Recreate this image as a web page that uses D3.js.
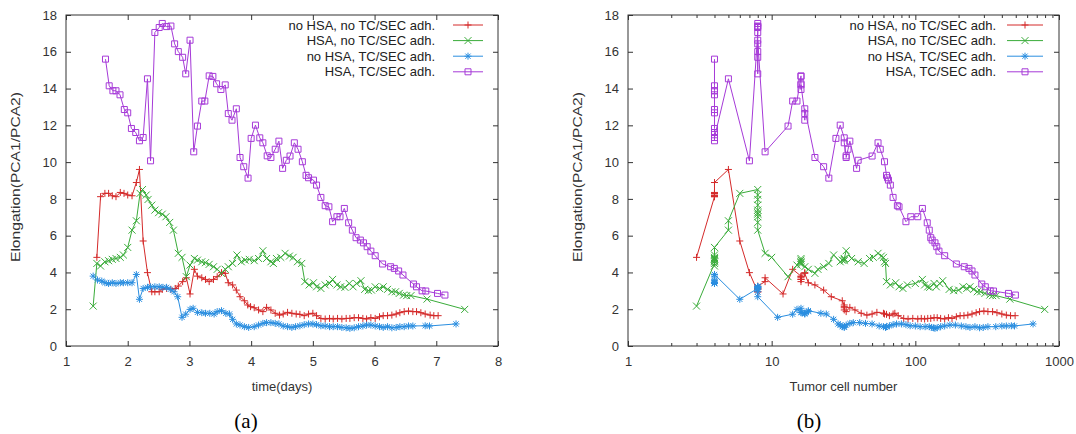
<!DOCTYPE html>
<html><head><meta charset="utf-8">
<script src="https://cdn.jsdelivr.net/npm/d3@7"></script>
<style>body{margin:0;background:#fff}</style>
</head><body><svg id="c" width="1076" height="434"></svg>
<script>
// ---------------- data ----------------
const seriesNames = ["no HSA, no TC/SEC adh.", "HSA, no TC/SEC adh.", "no HSA, TC/SEC adh.", "HSA, TC/SEC adh."];

const redTime = [1.50,1.56,1.63,1.69,1.75,1.81,1.88,1.94,2.00,2.07,2.14,2.19,2.25,2.32,2.39,2.44,2.51,2.56,2.63,2.70,2.77,2.82,2.89,2.95,3.01,3.08,3.13,3.20,3.26,3.32,3.39,3.45,3.52,3.58,3.63,3.70,3.76,3.82,3.89,3.945,3.99,4.05,4.12,4.19,4.25,4.32,4.39,4.46,4.52,4.59,4.66,4.73,4.79,4.86,4.93,5.00,5.06,5.13,5.20,5.27,5.33,5.40,5.47,5.54,5.60,5.67,5.74,5.81,5.87,5.94,6.01,6.08,6.14,6.21,6.28,6.35,6.41,6.48,6.55,6.62,6.68,6.75,6.82,6.90,6.96,7.03];
const redCells = [3,4,4,4,4,4,4,4,4,4,4,5,6,7,8,8,8,8,8,8,8,8,9,9,12,14,16,16,16,16,16,16,17,17,18,20,23,26,31,32,32,32,32,33,35,38,42,46,50,54,60,61,63,66,70,72,76,83,89,96,104,110,116,122,128,135,142,150,160,170,180,193,205,218,232,248,265,280,300,320,345,370,400,430,460,495];
const redElong = [4.82,8.12,8.30,8.30,8.17,8.12,8.35,8.30,8.21,8.17,8.89,9.60,5.71,3.99,2.95,2.95,2.95,3.08,3.13,3.08,3.13,3.26,3.50,3.71,2.83,4.17,3.80,3.71,3.62,3.50,3.62,3.77,3.99,3.95,3.44,3.32,3.04,2.68,2.46,2.23,2.14,2.08,1.96,1.87,2.10,1.96,1.78,1.68,1.74,1.83,1.78,1.74,1.72,1.65,1.74,1.78,1.65,1.50,1.47,1.50,1.47,1.50,1.47,1.50,1.50,1.54,1.54,1.50,1.47,1.54,1.50,1.59,1.65,1.65,1.68,1.74,1.81,1.87,1.90,1.87,1.87,1.81,1.74,1.68,1.65,1.65];

const greenTime = [1.44,1.50,1.56,1.63,1.69,1.75,1.81,1.88,1.93,2.00,2.07,2.14,2.20,2.24,2.30,2.33,2.39,2.44,2.50,2.56,2.62,2.68,2.74,2.82,2.88,2.95,3.01,3.08,3.13,3.20,3.26,3.32,3.39,3.45,3.52,3.58,3.63,3.70,3.77,3.84,3.90,3.97,4.05,4.12,4.19,4.25,4.32,4.36,4.41,4.48,4.55,4.62,4.68,4.75,4.82,4.87,4.94,5.01,5.06,5.13,5.20,5.27,5.32,5.39,5.45,5.52,5.59,5.65,5.71,5.78,5.84,5.90,5.95,6.01,6.08,6.14,6.21,6.28,6.34,6.40,6.47,6.52,6.59,6.85,7.46];
const greenCells = [3,4,4,4,4,4,4,4,4,4,5,5,6,8,8,8,8,8,8,8,8,8,8,9,10,13,15,16,16,16,16,16,17,18,20,21,23,25,27,30,31,32,32,32,33,36,40,44,48,51,55,58,60,61,62,63,67,73,77,82,88,100,112,116,122,126,135,140,148,155,172,185,200,215,228,240,255,270,285,305,330,345,365,455,795];
const greenElong = [2.17,4.49,4.35,4.58,4.64,4.71,4.76,4.82,4.95,5.36,6.30,6.81,8.30,8.51,8.21,7.97,7.66,7.39,7.25,7.17,7.03,6.72,6.30,5.04,4.82,3.77,4.40,4.76,4.67,4.58,4.53,4.44,4.31,4.17,3.95,4.17,4.31,4.49,4.95,4.58,4.67,4.71,4.64,4.76,5.18,4.76,4.58,4.49,4.76,4.82,5.04,4.89,4.82,4.58,4.49,3.50,3.32,3.44,3.22,3.13,3.32,3.40,3.62,3.32,3.22,3.19,3.40,3.22,3.40,3.55,3.08,3.01,3.04,3.22,3.13,3.22,3.08,2.95,2.95,2.86,2.77,2.74,2.74,2.55,1.99];

const blueTime = [1.44,1.51,1.58,1.63,1.69,1.75,1.81,1.88,1.93,2.00,2.07,2.14,2.19,2.25,2.32,2.37,2.44,2.51,2.57,2.63,2.69,2.75,2.81,2.88,2.94,3.01,3.06,3.13,3.20,3.26,3.33,3.40,3.45,3.52,3.59,3.65,3.70,3.76,3.82,3.89,3.96,4.05,4.12,4.19,4.25,4.32,4.39,4.45,4.52,4.59,4.66,4.72,4.79,4.86,4.93,5.00,5.06,5.13,5.20,5.27,5.33,5.40,5.47,5.54,5.60,5.67,5.74,5.81,5.87,5.94,6.01,6.08,6.14,6.21,6.28,6.35,6.41,6.48,6.55,6.62,6.82,6.89,7.32];
const blueCells = [4,4,4,4,4,4,4,4,4,4,4,4,6,8,8,8,8,8,8,8,8,8,8,11,14,15,16,16,16,17,17,17,18,18,22,24,27,29,30,31,32,32,33,35,37,41,45,50,56,60,62,63,66,70,74,80,86,92,100,108,117,125,130,134,137,142,150,160,174,190,209,225,240,260,280,297,320,363,400,430,466,490,660];
const blueElong = [3.80,3.59,3.53,3.44,3.40,3.44,3.40,3.44,3.44,3.44,3.44,3.89,2.54,3.13,3.19,3.22,3.22,3.22,3.19,3.19,3.08,2.95,2.68,1.56,1.73,1.99,2.05,1.83,1.81,1.78,1.78,1.74,1.87,1.92,1.78,1.74,1.45,1.20,1.14,1.05,1.01,1.05,1.14,1.23,1.27,1.27,1.23,1.20,1.09,1.05,1.01,1.05,1.10,1.16,1.20,1.20,1.16,1.10,1.09,1.05,1.05,1.05,1.01,0.99,0.96,0.99,1.05,1.09,1.14,1.14,1.09,1.05,1.01,1.05,0.99,1.01,1.05,1.05,1.09,1.09,1.10,1.09,1.20];

const purpleTime = [1.64,1.70,1.76,1.81,1.875,1.945,2.00,2.06,2.13,2.19,2.25,2.32,2.37,2.44,2.51,2.56,2.63,2.70,2.76,2.82,2.89,2.94,3.01,3.07,3.13,3.20,3.25,3.32,3.38,3.44,3.51,3.58,3.63,3.69,3.76,3.82,3.88,3.95,4.00,4.07,4.14,4.19,4.26,4.32,4.39,4.45,4.51,4.57,4.63,4.70,4.76,4.83,4.89,4.93,5.01,5.06,5.13,5.20,5.26,5.32,5.39,5.44,5.51,5.58,5.64,5.70,5.77,5.82,5.88,5.94,6.01,6.13,6.26,6.32,6.39,6.46,6.63,6.68,6.77,6.83,7.02,7.14];
const purpleCells = [4,4,4,4,4,4,4,4,4,4,4,5,7,8,8,8,8,8,8,8,8,8,8,9,13,14,15,16,16,16,16,16,17,17,17,20,23,25,28,30,32,32,33,33,34,35,39,40,50,55,57,61,63,64,65,67,70,75,77,86,93,104,112,121,125,128,131,137,141,146,160,193,219,236,248,260,290,307,332,350,445,497];
const purpleElong = [15.60,14.15,13.88,13.88,13.66,12.86,12.68,11.83,11.61,11.16,11.34,14.53,10.07,17.05,17.32,17.54,17.37,17.40,16.43,16.01,15.70,14.80,16.63,10.56,11.96,13.32,13.32,14.69,14.66,14.26,13.95,14.20,12.64,12.28,12.90,10.25,9.75,9.13,11.29,12.01,11.32,11.05,10.34,10.25,10.70,11.14,9.66,10.10,10.33,11.05,10.70,10.02,9.28,9.15,9.02,8.75,8.08,7.63,7.57,6.76,7.03,7.03,7.48,6.70,6.30,5.89,5.76,5.61,5.40,5.16,4.91,4.46,4.31,4.22,4.08,3.86,3.37,3.22,3.00,2.99,2.86,2.77];

const timeTicks = [1,2,3,4,5,6,7,8];
const cellTicks = [1,10,100,1000];
const elongTicks = [0,2,4,6,8,10,12,14,16,18];
const xTitles = ["time(days)", "Tumor cell number"];
const yTitle = "Elongation(PCA1/PCA2)";
const panelLabels = ["(a)", "(b)"];

// ---------------- styles ----------------
const colors = ["#d42a2a", "#3aac3a", "#2a8ee0", "#a63ad8"];
const markers = ["plus", "cross", "star", "square"];
const FONT = "'Liberation Sans', Arial, Helvetica, sans-serif";
const AXC = "#333";

const series = [
  {time: redTime, cells: redCells, elong: redElong},
  {time: greenTime, cells: greenCells, elong: greenElong},
  {time: blueTime, cells: blueCells, elong: blueElong},
  {time: purpleTime, cells: purpleCells, elong: purpleElong}
].map((s, i) => ({...s, name: seriesNames[i], color: colors[i], marker: markers[i]}));

const svg = d3.select("#c");

function markerPath(type) {
  const s = 3.5;
  if (type === "plus") return `M${-s},0H${s}M0,${-s}V${s}`;
  if (type === "cross") return `M${-s},${-s}L${s},${s}M${-s},${s}L${s},${-s}`;
  if (type === "star") { const c = 2.6; return `M${-s},0H${s}M0,${-s}V${s}M${-c},${-c}L${c},${c}M${-c},${c}L${c},${-c}`; }
  return `M${-3},${-3}H3V3H-3Z`;
}

function drawPanel(p) {
  const g = svg.append("g");
  const x = p.x, y = d3.scaleLinear().domain([0, 18]).range([346, 15]);
  const [x0, x1] = x.range();

  g.append("rect").attr("x", x0).attr("y", 15).attr("width", x1 - x0).attr("height", 331)
    .attr("fill", "none").attr("stroke", AXC).attr("stroke-width", 1);

  const style = sel => {
    sel.select(".domain").remove();
    sel.selectAll("line").attr("stroke", AXC);
    sel.selectAll("text").attr("fill", "#333").style("font-family", FONT).style("font-size", "13px");
  };
  g.append("g").attr("transform", "translate(0,346)")
    .call(d3.axisBottom(x).tickValues(p.xTicks).tickSize(-5).tickPadding(11).tickFormat(p.fmt)).call(style);
  g.append("g").attr("transform", "translate(0,15)")
    .call(d3.axisTop(x).tickValues(p.xTicks).tickSize(-5).tickFormat("")).call(style);
  if (p.minor) {
    g.append("g").attr("transform", "translate(0,346)")
      .call(d3.axisBottom(x).tickValues(p.minor).tickSize(-3).tickFormat("")).call(style);
    g.append("g").attr("transform", "translate(0,15)")
      .call(d3.axisTop(x).tickValues(p.minor).tickSize(-3).tickFormat("")).call(style);
  }
  g.append("g").attr("transform", `translate(${x0},0)`)
    .call(d3.axisLeft(y).tickValues(elongTicks).tickSize(-5).tickPadding(9)).call(style);
  g.append("g").attr("transform", `translate(${x1},0)`)
    .call(d3.axisRight(y).tickValues(elongTicks).tickSize(-5).tickFormat("")).call(style);

  g.append("text").attr("x", (x0 + x1) / 2).attr("y", 391).attr("text-anchor", "middle")
    .style("font-family", FONT).style("font-size", "13px").attr("fill", "#333").text(p.xTitle);
  g.append("text").attr("transform", `translate(${p.yTitleX},177) rotate(-90)`).attr("text-anchor", "middle")
    .attr("dy", "0.35em").attr("textLength", 170).attr("lengthAdjust", "spacingAndGlyphs")
    .style("font-family", FONT).style("font-size", "13px").attr("fill", "#333").text(yTitle);
  g.append("text").attr("x", p.labelX).attr("y", 428).attr("text-anchor", "middle")
    .style("font-family", "'Liberation Serif', 'Times New Roman', serif").style("font-size", "21px")
    .attr("fill", "#000").text(p.label);

  series.forEach(s => {
    const pts = s.time.map((t, i) => [x(p.key === "time" ? t : s.cells[i]), y(s.elong[i])]);
    g.append("path").attr("d", d3.line()(pts)).attr("fill", "none").attr("stroke", s.color).attr("stroke-width", 1);
    g.selectAll(null).data(pts).enter().append("path")
      .attr("transform", d => `translate(${d[0]},${d[1]})`)
      .attr("d", markerPath(s.marker)).attr("fill", "none").attr("stroke", s.color).attr("stroke-width", 1);
  });

  series.forEach((s, i) => {
    const ly = 25 + i * 15.6;
    g.append("text").attr("x", p.legX).attr("y", ly).attr("dy", "0.35em").attr("text-anchor", "end")
      .style("font-family", FONT).style("font-size", "13px").attr("fill", "#222").text(s.name);
    g.append("line").attr("x1", p.legL1).attr("x2", p.legL2).attr("y1", ly).attr("y2", ly)
      .attr("stroke", s.color).attr("stroke-width", 1);
    g.append("path").attr("transform", `translate(${(p.legL1 + p.legL2) / 2},${ly})`)
      .attr("d", markerPath(s.marker)).attr("fill", "none").attr("stroke", s.color);
  });
}

const xa = d3.scaleLinear().domain([1, 8]).range([66, 498]);
drawPanel({x: xa, xTicks: timeTicks, fmt: d3.format("d"), key: "time", xTitle: xTitles[0],
  yTitleX: 15, label: panelLabels[0], labelX: 246, legX: 435, legL1: 453, legL2: 483});

const xb = d3.scaleLog().domain([1, 1000]).range([628, 1059]);
const minorB = xb.ticks().filter(v => cellTicks.indexOf(v) < 0);
drawPanel({x: xb, xTicks: cellTicks, minor: minorB, fmt: d3.format("d"), key: "cells", xTitle: xTitles[1],
  yTitleX: 577, label: panelLabels[1], labelX: 809, legX: 996, legL1: 1007, legL2: 1043});
</script>
</body></html>
